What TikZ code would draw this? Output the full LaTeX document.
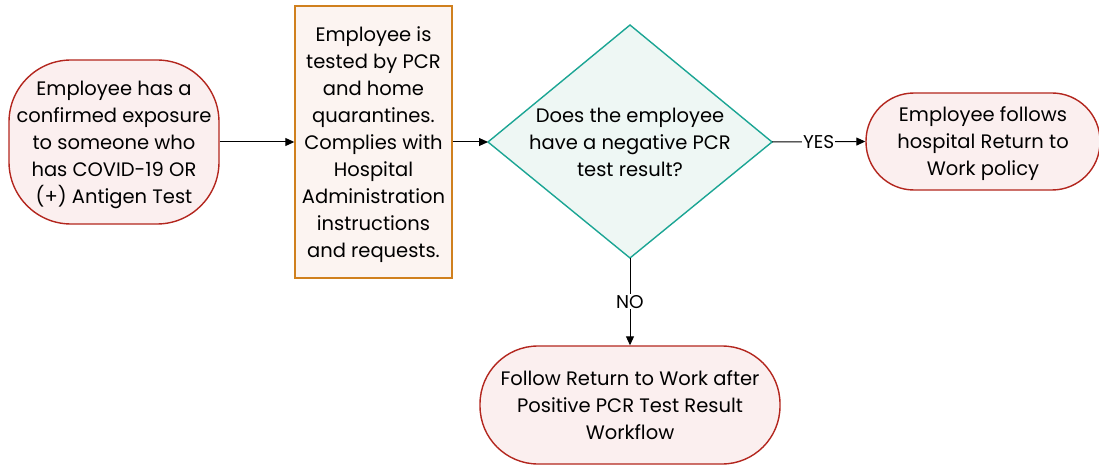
\documentclass[tikz,border=0pt]{standalone}
\usepackage{fontspec}
\setmainfont{Poppins}
\usetikzlibrary{shapes.geometric,arrows.meta}
\definecolor{redb}{HTML}{B3261E}
\definecolor{redf}{HTML}{FBEFEF}
\definecolor{orb}{HTML}{D0801E}
\definecolor{orf}{HTML}{FCF4F1}
\definecolor{teb}{HTML}{1BA594}
\definecolor{tef}{HTML}{EEF7F4}
\begin{document}
\begin{tikzpicture}[x=1pt,y=-1pt,
  every node/.style={font=\fontsize{19.5}{27}\selectfont, align=center, inner sep=0pt},
  txt/.style={text depth=0pt},
  term/.style={txt, draw=redb, fill=redf, line width=1.4pt},
  proc/.style={txt, draw=orb, fill=orf, line width=1.4pt, rectangle},
  conn/.style={draw=black, line width=1pt, -{Triangle[length=9pt,width=8pt]}},
  lab/.style={fill=white, inner sep=1pt, font=\fontsize{18.5}{20}\selectfont}]
\useasboundingbox (0,0) rectangle (1099,465);
\node[term, rounded corners=62pt, minimum width=210pt, minimum height=164pt] (a) at (114,142)
  {Employee has a\\confirmed exposure\\to someone who\\has COVID-19 OR\\(+) Antigen Test};
\node[proc, minimum width=157pt, minimum height=272pt] (b) at (373.5,142)
  {Employee is\\tested by PCR\\and home\\quarantines.\\Complies with\\Hospital\\Administration\\instructions\\and requests.};
\path[draw=teb, fill=tef, line width=1.4pt] (488,142) -- (630,25) -- (772,142) -- (630,258) -- cycle;
\node[txt] (c) at (630,142) {Does the employee\\have a negative PCR\\test result?};
\coordinate (cl) at (488,142);
\coordinate (cr) at (772,142);
\coordinate (cb) at (630,258);
\node[term, rounded corners=48pt, minimum width=234pt, minimum height=97pt] (d) at (983,141.5)
  {Employee follows\\hospital Return to\\Work policy};
\node[term, rounded corners=58pt, minimum width=300pt, minimum height=118pt] (e) at (630,405)
  {Follow Return to Work after\\Positive PCR Test Result\\Workflow};
\draw[conn] (a.east) -- (b.west);
\draw[conn] (b.east) -- (cl);
\draw[conn] (cr) -- node[lab] {YES} (d.west);
\draw[conn] (cb) -- node[lab] {NO} (e.north);
\end{tikzpicture}
\end{document}
